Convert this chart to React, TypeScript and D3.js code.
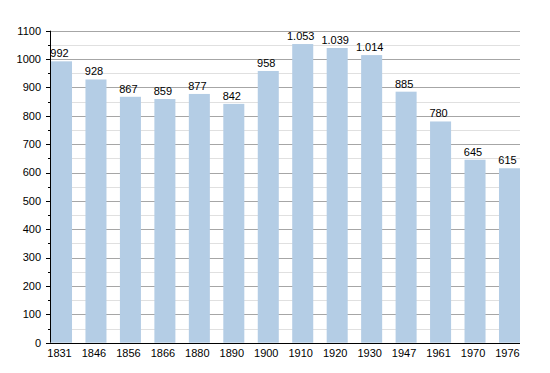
import * as d3 from "d3";
import { useEffect, useRef } from "react";

const years = ["1831", "1846", "1856", "1866", "1880", "1890", "1900", "1910", "1920", "1930", "1947", "1961", "1970", "1976"];
const population = [992, 928, 867, 859, 877, 842, 958, 1053, 1039, 1014, 885, 780, 645, 615];
const majorTicks = d3.range(0, 1101, 100);
const minorTicks = d3.range(50, 1100, 100);

export default function App() {
  const ref = useRef<SVGSVGElement>(null);

  useEffect(() => {
    document.body.style.margin = "0";
    const width = 550;
    const height = 373;
    const left = 50;
    const right = 520;
    const top = 30.7;
    const bottom = 342.7;

    const svg = d3.select(ref.current);
    svg.selectAll("*").remove();
    svg.attr("width", width).attr("height", height);

    const x = d3.scaleBand<string>()
      .domain(years)
      .range([left + 1, right])
      .paddingInner(0.39)
      .paddingOuter(0);

    const y = d3.scaleLinear().domain([0, 1100]).range([bottom, top]);

    const font = "'Liberation Sans', Arial, sans-serif";

    // minor grid
    svg.append("g")
      .selectAll("line")
      .data(minorTicks)
      .enter()
      .append("line")
      .attr("x1", left)
      .attr("x2", right)
      .attr("y1", d => Math.round(y(d)) + 0.5)
      .attr("y2", d => Math.round(y(d)) + 0.5)
      .attr("stroke", "#e0e0e0")
      .attr("stroke-width", 1);

    // major grid
    svg.append("g")
      .selectAll("line")
      .data(majorTicks.filter(d => d > 0))
      .enter()
      .append("line")
      .attr("x1", left)
      .attr("x2", right)
      .attr("y1", d => Math.round(y(d)) + 0.5)
      .attr("y2", d => Math.round(y(d)) + 0.5)
      .attr("stroke", "#a6a6a6")
      .attr("stroke-width", 1);

    // bars
    svg.append("g")
      .selectAll("rect")
      .data(population)
      .enter()
      .append("rect")
      .attr("x", (d, i) => x(years[i])!)
      .attr("y", d => y(d))
      .attr("width", x.bandwidth())
      .attr("height", d => bottom - y(d))
      .attr("fill", "#b4cde5");

    // value labels
    svg.append("g")
      .selectAll("text")
      .data(population)
      .enter()
      .append("text")
      .attr("x", (d, i) => x(years[i])! + x.bandwidth() / 2 - 2)
      .attr("y", d => y(d) - 4)
      .attr("text-anchor", "middle")
      .attr("font-family", font)
      .attr("font-size", 11)
      .attr("fill", "#000")
      .text(d => (d >= 1000 ? d3.format(",")(d).replace(",", ".") : String(d)));

    // y axis
    const yAxis = svg.append("g");
    yAxis.append("line")
      .attr("x1", left + 0.5)
      .attr("x2", left + 0.5)
      .attr("y1", top)
      .attr("y2", bottom)
      .attr("stroke", "#000");
    yAxis.selectAll("line.major")
      .data(majorTicks)
      .enter()
      .append("line")
      .attr("class", "major")
      .attr("x1", left - 4)
      .attr("x2", left)
      .attr("y1", d => Math.round(y(d)) + 0.5)
      .attr("y2", d => Math.round(y(d)) + 0.5)
      .attr("stroke", "#000");
    yAxis.selectAll("line.minor")
      .data(minorTicks)
      .enter()
      .append("line")
      .attr("class", "minor")
      .attr("x1", left - 2)
      .attr("x2", left)
      .attr("y1", d => Math.round(y(d)) + 0.5)
      .attr("y2", d => Math.round(y(d)) + 0.5)
      .attr("stroke", "#000");
    yAxis.selectAll("text")
      .data(majorTicks)
      .enter()
      .append("text")
      .attr("x", left - 9)
      .attr("y", d => y(d))
      .attr("dy", "0.35em")
      .attr("text-anchor", "end")
      .attr("font-family", font)
      .attr("font-size", 11)
      .text(d => String(d));

    // x axis
    svg.append("line")
      .attr("x1", left)
      .attr("x2", right)
      .attr("y1", Math.round(bottom) + 0.5)
      .attr("y2", Math.round(bottom) + 0.5)
      .attr("stroke", "#000");
    svg.append("g")
      .selectAll("text")
      .data(years)
      .enter()
      .append("text")
      .attr("x", d => x(d)! + x.bandwidth() / 2 - 2)
      .attr("y", bottom + 14)
      .attr("text-anchor", "middle")
      .attr("font-family", font)
      .attr("font-size", 11)
      .text(d => d);
  }, []);

  return <svg ref={ref} style={{ display: "block" }} />;
}
